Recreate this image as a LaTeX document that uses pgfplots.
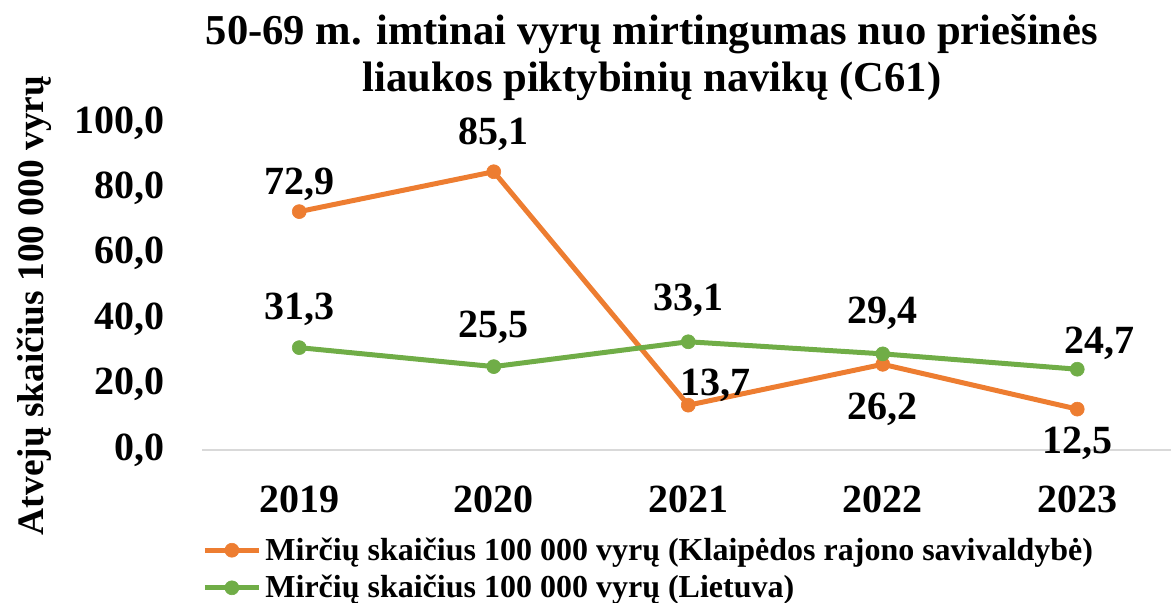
\documentclass[border=0pt]{standalone}
\usepackage{fontspec}
\setmainfont{Liberation Serif}
\usepackage{pgfplots}
\pgfplotsset{compat=1.18}
\usepackage{pgfplotstable}
\definecolor{xorange}{HTML}{ED7D31}
\definecolor{xgreen}{HTML}{70AD47}
\definecolor{xgray}{HTML}{D9D9D9}

\pgfplotstableread{
x y dx dy
0 72.9 0 13.5
1 85.1 0 18.8
2 13.7 13.5 10
3 26.2 0 -22.5
4 12.5 0 -17
}\orangedata
\pgfplotstableread{
x y dx dy
0 31.3 0 19
1 25.5 0 19.5
2 33.1 0 20.5
3 29.4 0 20
4 24.7 11 12.75
}\greendata

\begin{document}
\begin{tikzpicture}
\useasboundingbox (0,0) rectangle (585.5pt,301.5pt);
\begin{axis}[
  at={(101pt,76.5pt)}, anchor=south west,
  scale only axis, width=486.25pt, height=163.5pt,
  xmin=-0.5, xmax=4.5, ymin=0, ymax=100,
  axis x line=bottom, axis y line=left,
  x axis line style={xgray, line width=0.9pt, -},
  y axis line style={draw=none},
  major tick length=0pt,
  xtick={0,1,2,3,4}, xticklabels={2019,2020,2021,2022,2023},
  ytick={0,20,40,60,80,100},
  /pgf/number format/assume math mode=true,
  yticklabel={\pgfmathprintnumber[fixed,fixed zerofill,precision=1,use comma,assume math mode=true]{\tick}},
  ticklabel style={font=\fontsize{20}{24}\selectfont\bfseries},
  yticklabel style={anchor=east, xshift=-18.5pt, inner sep=0pt},
  xticklabel style={anchor=center, yshift=-24.5pt},
  clip=false,
  nodes near coords={\pgfmathprintnumber[fixed,fixed zerofill,precision=1,use comma,assume math mode=true]{\pgfplotspointmeta}},
  visualization depends on={\thisrow{dx}\as\mydx},
  visualization depends on={\thisrow{dy}\as\mydy},
  every node near coord/.append style={font=\fontsize{20}{24}\selectfont\bfseries, anchor=center, xshift=\mydx pt, yshift=\mydy pt, text=black},
  legend style={at={(axis description cs:0,-0.254)}, anchor=north west, draw=none, fill=none, inner sep=0pt, row sep=2pt, font=\fontsize{16}{19}\selectfont\bfseries, /tikz/every odd column/.append style={column sep=0pt}},
  legend cell align=left,
  legend image code/.code={\draw[#1, mark=none] (0pt,0pt) -- (27pt,0pt); \draw[#1, only marks] plot coordinates {(13.5pt,0pt)};},
]
\addplot[xorange, line width=2.5pt, mark=*, mark size=3.5pt, mark options={solid, fill=xorange, draw=xorange, line width=0.3pt}] table[x=x, y=y] {\orangedata};
\addlegendentry{Mirčių skaičius 100 000 vyrų (Klaipėdos rajono savivaldybė)}
\addplot[xgreen, line width=2.5pt, mark=*, mark size=3.5pt, mark options={solid, fill=xgreen, draw=xgreen, line width=0.3pt}] table[x=x, y=y] {\greendata};
\addlegendentry{Mirčių skaičius 100 000 vyrų (Lietuva)}
\end{axis}
\node[font=\fontsize{21.3}{25}\selectfont\bfseries, anchor=base] at (326pt,279pt) {50-69 m. imtinai vyrų mirtingumas nuo priešinės};
\node[font=\fontsize{21.3}{25}\selectfont\bfseries, anchor=base] at (326pt,255.5pt) {liaukos piktybinių navikų (C61)};
\node[font=\fontsize{18.7}{22}\selectfont\bfseries, rotate=90, anchor=base] at (21.5pt,148.75pt) {Atvejų skaičius 100 000 vyrų};
\end{tikzpicture}
\end{document}
